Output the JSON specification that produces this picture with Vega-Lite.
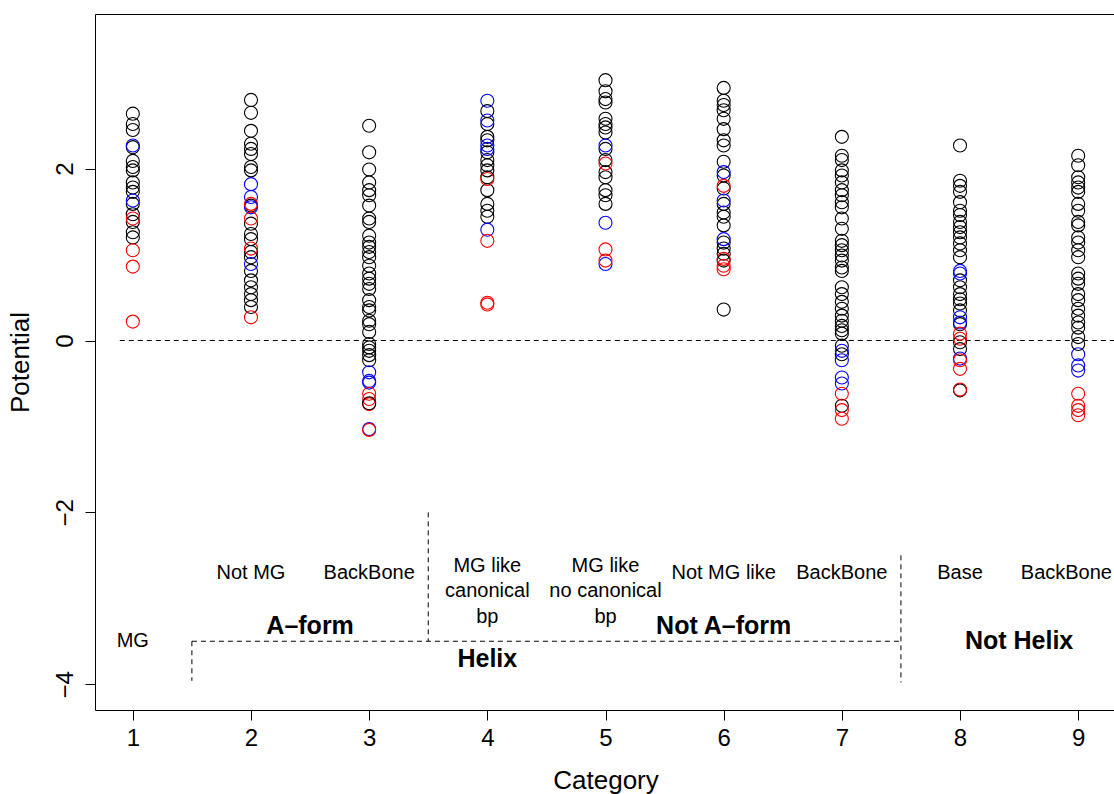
{
  "$schema": "https://vega.github.io/schema/vega-lite/v6.json",
  "width": 1021,
  "height": 696,
  "autosize": "none",
  "padding": {"left": 95, "top": 14, "right": 0, "bottom": 84},
  "background": "white",
  "config": {
    "font": "Liberation Sans",
    "view": {"stroke": "black", "strokeWidth": 1},
    "axis": {"grid": false, "domain": false, "tickColor": "black", "tickSize": 10, "labelColor": "black", "titleColor": "black", "labelFont": "Liberation Sans", "titleFont": "Liberation Sans", "titleFontWeight": "normal"}
  },
  "datasets": {
    "points": [
      {"cat": 1, "potential": 2.64, "group": "a"},
      {"cat": 1, "potential": 2.52, "group": "a"},
      {"cat": 1, "potential": 2.45, "group": "a"},
      {"cat": 1, "potential": 2.25, "group": "a"},
      {"cat": 1, "potential": 2.09, "group": "a"},
      {"cat": 1, "potential": 2.02, "group": "a"},
      {"cat": 1, "potential": 1.98, "group": "a"},
      {"cat": 1, "potential": 1.84, "group": "a"},
      {"cat": 1, "potential": 1.78, "group": "a"},
      {"cat": 1, "potential": 1.73, "group": "a"},
      {"cat": 1, "potential": 1.59, "group": "a"},
      {"cat": 1, "potential": 1.47, "group": "a"},
      {"cat": 1, "potential": 1.38, "group": "a"},
      {"cat": 1, "potential": 1.26, "group": "a"},
      {"cat": 1, "potential": 1.2, "group": "a"},
      {"cat": 1, "potential": 2.27, "group": "b"},
      {"cat": 1, "potential": 1.63, "group": "b"},
      {"cat": 1, "potential": 1.42, "group": "c"},
      {"cat": 1, "potential": 1.05, "group": "c"},
      {"cat": 1, "potential": 0.86, "group": "c"},
      {"cat": 1, "potential": 0.22, "group": "c"},

      {"cat": 2, "potential": 2.8, "group": "a"},
      {"cat": 2, "potential": 2.65, "group": "a"},
      {"cat": 2, "potential": 2.44, "group": "a"},
      {"cat": 2, "potential": 2.29, "group": "a"},
      {"cat": 2, "potential": 2.23, "group": "a"},
      {"cat": 2, "potential": 2.17, "group": "a"},
      {"cat": 2, "potential": 2.02, "group": "a"},
      {"cat": 2, "potential": 1.98, "group": "a"},
      {"cat": 2, "potential": 1.57, "group": "a"},
      {"cat": 2, "potential": 1.36, "group": "a"},
      {"cat": 2, "potential": 1.24, "group": "a"},
      {"cat": 2, "potential": 1.18, "group": "a"},
      {"cat": 2, "potential": 1.03, "group": "a"},
      {"cat": 2, "potential": 0.97, "group": "a"},
      {"cat": 2, "potential": 0.81, "group": "a"},
      {"cat": 2, "potential": 0.7, "group": "a"},
      {"cat": 2, "potential": 0.62, "group": "a"},
      {"cat": 2, "potential": 0.54, "group": "a"},
      {"cat": 2, "potential": 0.47, "group": "a"},
      {"cat": 2, "potential": 0.39, "group": "a"},
      {"cat": 2, "potential": 1.82, "group": "b"},
      {"cat": 2, "potential": 1.67, "group": "b"},
      {"cat": 2, "potential": 1.55, "group": "b"},
      {"cat": 2, "potential": 0.89, "group": "b"},
      {"cat": 2, "potential": 1.59, "group": "c"},
      {"cat": 2, "potential": 1.42, "group": "c"},
      {"cat": 2, "potential": 1.07, "group": "c"},
      {"cat": 2, "potential": 0.27, "group": "c"},

      {"cat": 3, "potential": 2.5, "group": "a"},
      {"cat": 3, "potential": 2.19, "group": "a"},
      {"cat": 3, "potential": 1.99, "group": "a"},
      {"cat": 3, "potential": 1.84, "group": "a"},
      {"cat": 3, "potential": 1.75, "group": "a"},
      {"cat": 3, "potential": 1.69, "group": "a"},
      {"cat": 3, "potential": 1.57, "group": "a"},
      {"cat": 3, "potential": 1.42, "group": "a"},
      {"cat": 3, "potential": 1.38, "group": "a"},
      {"cat": 3, "potential": 1.22, "group": "a"},
      {"cat": 3, "potential": 1.14, "group": "a"},
      {"cat": 3, "potential": 1.09, "group": "a"},
      {"cat": 3, "potential": 1.03, "group": "a"},
      {"cat": 3, "potential": 0.97, "group": "a"},
      {"cat": 3, "potential": 0.87, "group": "a"},
      {"cat": 3, "potential": 0.78, "group": "a"},
      {"cat": 3, "potential": 0.72, "group": "a"},
      {"cat": 3, "potential": 0.66, "group": "a"},
      {"cat": 3, "potential": 0.6, "group": "a"},
      {"cat": 3, "potential": 0.47, "group": "a"},
      {"cat": 3, "potential": 0.39, "group": "a"},
      {"cat": 3, "potential": 0.35, "group": "a"},
      {"cat": 3, "potential": 0.23, "group": "a"},
      {"cat": 3, "potential": 0.19, "group": "a"},
      {"cat": 3, "potential": 0.1, "group": "a"},
      {"cat": 3, "potential": -0.04, "group": "a"},
      {"cat": 3, "potential": -0.08, "group": "a"},
      {"cat": 3, "potential": -0.12, "group": "a"},
      {"cat": 3, "potential": -0.17, "group": "a"},
      {"cat": 3, "potential": -0.23, "group": "a"},
      {"cat": 3, "potential": -0.37, "group": "b"},
      {"cat": 3, "potential": -0.47, "group": "b"},
      {"cat": 3, "potential": -0.49, "group": "b"},
      {"cat": 3, "potential": -1.03, "group": "b"},
      {"cat": 3, "potential": -0.62, "group": "c"},
      {"cat": 3, "potential": -0.68, "group": "c"},
      {"cat": 3, "potential": -0.74, "group": "c"},
      {"cat": 3, "potential": -1.04, "group": "c"},
      {"cat": 3, "potential": -0.73, "group": "a"},

      {"cat": 4, "potential": 2.67, "group": "a"},
      {"cat": 4, "potential": 2.52, "group": "a"},
      {"cat": 4, "potential": 2.37, "group": "a"},
      {"cat": 4, "potential": 2.33, "group": "a"},
      {"cat": 4, "potential": 2.19, "group": "a"},
      {"cat": 4, "potential": 2.1, "group": "a"},
      {"cat": 4, "potential": 2.04, "group": "a"},
      {"cat": 4, "potential": 1.98, "group": "a"},
      {"cat": 4, "potential": 1.9, "group": "a"},
      {"cat": 4, "potential": 1.75, "group": "a"},
      {"cat": 4, "potential": 1.59, "group": "a"},
      {"cat": 4, "potential": 1.51, "group": "a"},
      {"cat": 4, "potential": 1.44, "group": "a"},
      {"cat": 4, "potential": 2.79, "group": "b"},
      {"cat": 4, "potential": 2.56, "group": "b"},
      {"cat": 4, "potential": 2.27, "group": "b"},
      {"cat": 4, "potential": 2.23, "group": "b"},
      {"cat": 4, "potential": 1.29, "group": "b"},
      {"cat": 4, "potential": 1.88, "group": "c"},
      {"cat": 4, "potential": 1.16, "group": "c"},
      {"cat": 4, "potential": 0.44, "group": "c"},
      {"cat": 4, "potential": 0.42, "group": "c"},

      {"cat": 5, "potential": 3.03, "group": "a"},
      {"cat": 5, "potential": 2.9, "group": "a"},
      {"cat": 5, "potential": 2.81, "group": "a"},
      {"cat": 5, "potential": 2.77, "group": "a"},
      {"cat": 5, "potential": 2.58, "group": "a"},
      {"cat": 5, "potential": 2.52, "group": "a"},
      {"cat": 5, "potential": 2.48, "group": "a"},
      {"cat": 5, "potential": 2.42, "group": "a"},
      {"cat": 5, "potential": 2.23, "group": "a"},
      {"cat": 5, "potential": 2.1, "group": "a"},
      {"cat": 5, "potential": 1.96, "group": "a"},
      {"cat": 5, "potential": 1.9, "group": "a"},
      {"cat": 5, "potential": 1.75, "group": "a"},
      {"cat": 5, "potential": 1.69, "group": "a"},
      {"cat": 5, "potential": 1.59, "group": "a"},
      {"cat": 5, "potential": 2.27, "group": "b"},
      {"cat": 5, "potential": 1.37, "group": "b"},
      {"cat": 5, "potential": 0.89, "group": "b"},
      {"cat": 5, "potential": 2.06, "group": "c"},
      {"cat": 5, "potential": 1.06, "group": "c"},
      {"cat": 5, "potential": 0.93, "group": "c"},

      {"cat": 6, "potential": 2.94, "group": "a"},
      {"cat": 6, "potential": 2.79, "group": "a"},
      {"cat": 6, "potential": 2.74, "group": "a"},
      {"cat": 6, "potential": 2.68, "group": "a"},
      {"cat": 6, "potential": 2.58, "group": "a"},
      {"cat": 6, "potential": 2.46, "group": "a"},
      {"cat": 6, "potential": 2.33, "group": "a"},
      {"cat": 6, "potential": 2.27, "group": "a"},
      {"cat": 6, "potential": 2.08, "group": "a"},
      {"cat": 6, "potential": 1.92, "group": "a"},
      {"cat": 6, "potential": 1.77, "group": "a"},
      {"cat": 6, "potential": 1.59, "group": "a"},
      {"cat": 6, "potential": 1.49, "group": "a"},
      {"cat": 6, "potential": 1.44, "group": "a"},
      {"cat": 6, "potential": 1.34, "group": "a"},
      {"cat": 6, "potential": 1.14, "group": "a"},
      {"cat": 6, "potential": 1.07, "group": "a"},
      {"cat": 6, "potential": 1.01, "group": "a"},
      {"cat": 6, "potential": 0.93, "group": "a"},
      {"cat": 6, "potential": 0.36, "group": "a"},
      {"cat": 6, "potential": 1.96, "group": "b"},
      {"cat": 6, "potential": 1.63, "group": "b"},
      {"cat": 6, "potential": 1.18, "group": "b"},
      {"cat": 6, "potential": 1.8, "group": "c"},
      {"cat": 6, "potential": 0.95, "group": "c"},
      {"cat": 6, "potential": 0.87, "group": "c"},
      {"cat": 6, "potential": 0.83, "group": "c"},

      {"cat": 7, "potential": 2.37, "group": "a"},
      {"cat": 7, "potential": 2.15, "group": "a"},
      {"cat": 7, "potential": 2.1, "group": "a"},
      {"cat": 7, "potential": 1.98, "group": "a"},
      {"cat": 7, "potential": 1.92, "group": "a"},
      {"cat": 7, "potential": 1.84, "group": "a"},
      {"cat": 7, "potential": 1.75, "group": "a"},
      {"cat": 7, "potential": 1.69, "group": "a"},
      {"cat": 7, "potential": 1.61, "group": "a"},
      {"cat": 7, "potential": 1.55, "group": "a"},
      {"cat": 7, "potential": 1.42, "group": "a"},
      {"cat": 7, "potential": 1.3, "group": "a"},
      {"cat": 7, "potential": 1.16, "group": "a"},
      {"cat": 7, "potential": 1.11, "group": "a"},
      {"cat": 7, "potential": 1.05, "group": "a"},
      {"cat": 7, "potential": 0.99, "group": "a"},
      {"cat": 7, "potential": 0.93, "group": "a"},
      {"cat": 7, "potential": 0.85, "group": "a"},
      {"cat": 7, "potential": 0.81, "group": "a"},
      {"cat": 7, "potential": 0.62, "group": "a"},
      {"cat": 7, "potential": 0.54, "group": "a"},
      {"cat": 7, "potential": 0.45, "group": "a"},
      {"cat": 7, "potential": 0.37, "group": "a"},
      {"cat": 7, "potential": 0.29, "group": "a"},
      {"cat": 7, "potential": 0.23, "group": "a"},
      {"cat": 7, "potential": 0.17, "group": "a"},
      {"cat": 7, "potential": 0.12, "group": "a"},
      {"cat": 7, "potential": 0.08, "group": "a"},
      {"cat": 7, "potential": -0.06, "group": "a"},
      {"cat": 7, "potential": -0.16, "group": "a"},
      {"cat": 7, "potential": -0.76, "group": "a"},
      {"cat": 7, "potential": -0.12, "group": "b"},
      {"cat": 7, "potential": -0.23, "group": "b"},
      {"cat": 7, "potential": -0.43, "group": "b"},
      {"cat": 7, "potential": -0.5, "group": "b"},
      {"cat": 7, "potential": -0.62, "group": "c"},
      {"cat": 7, "potential": -0.81, "group": "c"},
      {"cat": 7, "potential": -0.91, "group": "c"},

      {"cat": 8, "potential": 2.27, "group": "a"},
      {"cat": 8, "potential": 1.86, "group": "a"},
      {"cat": 8, "potential": 1.8, "group": "a"},
      {"cat": 8, "potential": 1.73, "group": "a"},
      {"cat": 8, "potential": 1.61, "group": "a"},
      {"cat": 8, "potential": 1.51, "group": "a"},
      {"cat": 8, "potential": 1.46, "group": "a"},
      {"cat": 8, "potential": 1.38, "group": "a"},
      {"cat": 8, "potential": 1.32, "group": "a"},
      {"cat": 8, "potential": 1.26, "group": "a"},
      {"cat": 8, "potential": 1.2, "group": "a"},
      {"cat": 8, "potential": 1.13, "group": "a"},
      {"cat": 8, "potential": 1.05, "group": "a"},
      {"cat": 8, "potential": 0.97, "group": "a"},
      {"cat": 8, "potential": 0.7, "group": "a"},
      {"cat": 8, "potential": 0.62, "group": "a"},
      {"cat": 8, "potential": 0.54, "group": "a"},
      {"cat": 8, "potential": 0.48, "group": "a"},
      {"cat": 8, "potential": 0.43, "group": "a"},
      {"cat": 8, "potential": 0.35, "group": "a"},
      {"cat": 8, "potential": 0.19, "group": "a"},
      {"cat": 8, "potential": -0.02, "group": "a"},
      {"cat": 8, "potential": -0.1, "group": "a"},
      {"cat": 8, "potential": -0.58, "group": "a"},
      {"cat": 8, "potential": 0.81, "group": "b"},
      {"cat": 8, "potential": 0.78, "group": "b"},
      {"cat": 8, "potential": 0.27, "group": "b"},
      {"cat": 8, "potential": 0.21, "group": "b"},
      {"cat": 8, "potential": -0.21, "group": "b"},
      {"cat": 8, "potential": 0.08, "group": "c"},
      {"cat": 8, "potential": 0.02, "group": "c"},
      {"cat": 8, "potential": -0.23, "group": "c"},
      {"cat": 8, "potential": -0.33, "group": "c"},
      {"cat": 8, "potential": -0.57, "group": "c"},

      {"cat": 9, "potential": 2.15, "group": "a"},
      {"cat": 9, "potential": 2.04, "group": "a"},
      {"cat": 9, "potential": 1.9, "group": "a"},
      {"cat": 9, "potential": 1.84, "group": "a"},
      {"cat": 9, "potential": 1.78, "group": "a"},
      {"cat": 9, "potential": 1.73, "group": "a"},
      {"cat": 9, "potential": 1.59, "group": "a"},
      {"cat": 9, "potential": 1.51, "group": "a"},
      {"cat": 9, "potential": 1.38, "group": "a"},
      {"cat": 9, "potential": 1.34, "group": "a"},
      {"cat": 9, "potential": 1.2, "group": "a"},
      {"cat": 9, "potential": 1.14, "group": "a"},
      {"cat": 9, "potential": 1.05, "group": "a"},
      {"cat": 9, "potential": 0.97, "group": "a"},
      {"cat": 9, "potential": 0.78, "group": "a"},
      {"cat": 9, "potential": 0.72, "group": "a"},
      {"cat": 9, "potential": 0.66, "group": "a"},
      {"cat": 9, "potential": 0.54, "group": "a"},
      {"cat": 9, "potential": 0.47, "group": "a"},
      {"cat": 9, "potential": 0.37, "group": "a"},
      {"cat": 9, "potential": 0.29, "group": "a"},
      {"cat": 9, "potential": 0.21, "group": "a"},
      {"cat": 9, "potential": 0.15, "group": "a"},
      {"cat": 9, "potential": 0.04, "group": "a"},
      {"cat": 9, "potential": -0.04, "group": "a"},
      {"cat": 9, "potential": -0.16, "group": "b"},
      {"cat": 9, "potential": -0.29, "group": "b"},
      {"cat": 9, "potential": -0.35, "group": "b"},
      {"cat": 9, "potential": -0.62, "group": "c"},
      {"cat": 9, "potential": -0.76, "group": "c"},
      {"cat": 9, "potential": -0.81, "group": "c"},
      {"cat": 9, "potential": -0.87, "group": "c"}
    ],
    "guides": [
      {"x": 0.89, "x2": 9.32, "y": 0, "y2": 0},
      {"x": 1.5, "x2": 1.5, "y": -3.5, "y2": -3.96},
      {"x": 1.5, "x2": 7.5, "y": -3.5, "y2": -3.5},
      {"x": 3.5, "x2": 3.5, "y": -2.0, "y2": -3.5},
      {"x": 7.5, "x2": 7.5, "y": -2.5, "y2": -3.98}
    ],
    "labels": [
      {"x": 1, "y": -3.5, "label": "MG"},
      {"x": 2, "y": -2.7, "label": "Not MG"},
      {"x": 3, "y": -2.7, "label": "BackBone"},
      {"x": 4, "y": -2.62, "label": "MG like\ncanonical\nbp"},
      {"x": 5, "y": -2.62, "label": "MG like\nno canonical\nbp"},
      {"x": 6, "y": -2.7, "label": "Not MG like"},
      {"x": 7, "y": -2.7, "label": "BackBone"},
      {"x": 8, "y": -2.7, "label": "Base"},
      {"x": 8.9, "y": -2.7, "label": "BackBone"}
    ],
    "groups": [
      {"x": 2.5, "y": -3.32, "label": "A–form"},
      {"x": 6, "y": -3.32, "label": "Not A–form"},
      {"x": 4, "y": -3.71, "label": "Helix"},
      {"x": 8.5, "y": -3.5, "label": "Not Helix"}
    ]
  },
  "layer": [
    {
      "data": {"name": "guides"},
      "mark": {"type": "rule", "color": "black", "strokeWidth": 1, "strokeDash": [5, 4], "clip": true},
      "encoding": {
        "x": {"field": "x", "type": "quantitative", "scale": {"domain": [0.68, 9.32], "nice": false, "zero": false},
          "axis": {"values": [1, 2, 3, 4, 5, 6, 7, 8, 9], "format": "d", "labelFontSize": 24, "labelPadding": 6, "title": "Category", "titleFontSize": 26, "titlePadding": 17}},
        "x2": {"field": "x2"},
        "y": {"field": "y", "type": "quantitative", "scale": {"domain": [-4.3, 3.8], "nice": false, "zero": false},
          "axis": {"values": [-4, -2, 0, 2], "format": "d", "labelFontSize": 24, "labelAngle": -90, "labelAlign": "center", "labelBaseline": "bottom", "labelPadding": 8, "title": "Potential", "titleFontSize": 26, "titlePadding": 20}},
        "y2": {"field": "y2"}
      }
    },
    {
      "data": {"name": "points"},
      "mark": {"type": "point", "shape": "circle", "filled": false, "size": 170, "strokeWidth": 1.1, "opacity": 1},
      "encoding": {
        "x": {"field": "cat", "type": "quantitative"},
        "y": {"field": "potential", "type": "quantitative"},
        "color": {"field": "group", "type": "nominal", "scale": {"domain": ["a", "b", "c"], "range": ["#000000", "#0000ff", "#ff0000"]}, "legend": null}
      }
    },
    {
      "data": {"name": "labels"},
      "mark": {"type": "text", "fontSize": 20, "color": "black", "align": "center", "baseline": "middle", "lineBreak": "\n", "lineHeight": 25.5},
      "encoding": {
        "x": {"field": "x", "type": "quantitative"},
        "y": {"field": "y", "type": "quantitative"},
        "text": {"field": "label"}
      }
    },
    {
      "data": {"name": "groups"},
      "mark": {"type": "text", "fontSize": 25, "fontWeight": "bold", "color": "black", "align": "center", "baseline": "middle"},
      "encoding": {
        "x": {"field": "x", "type": "quantitative"},
        "y": {"field": "y", "type": "quantitative"},
        "text": {"field": "label"}
      }
    }
  ]
}
